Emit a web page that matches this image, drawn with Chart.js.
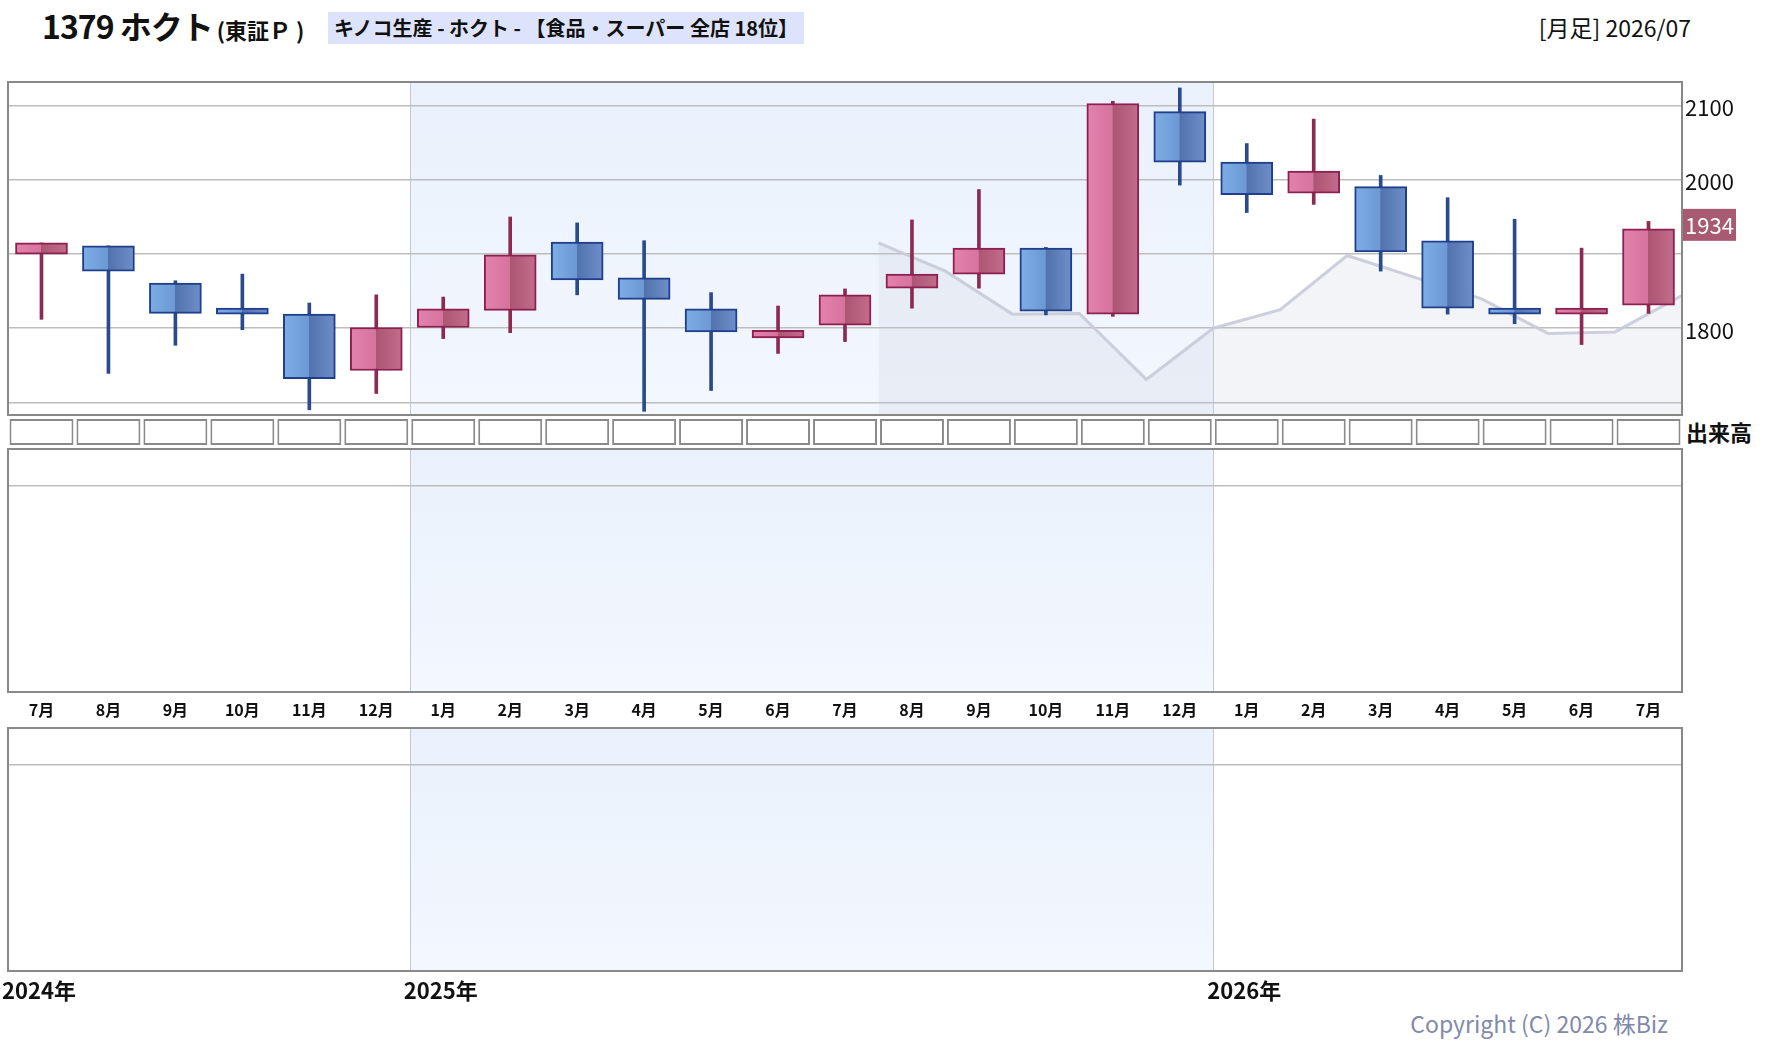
<!DOCTYPE html>
<html>
<head>
<meta charset="utf-8">
<script src="https://cdn.jsdelivr.net/npm/chart.js@4.4.1/dist/chart.umd.min.js"></script>
<style>
  body { margin:0; width:1780px; height:1054px; background:#fff; position:relative; overflow:hidden;
         font-family:"Noto Sans CJK JP","Noto Sans",sans-serif; color:#111; }
  canvas { position:absolute; left:0; }
  .txt { position:absolute; white-space:nowrap; }
</style>
</head>
<body>
<div class="txt" style="left:42px;top:2px;font-size:32px;font-weight:bold;letter-spacing:-1px;">1379 ホクト<span style="font-size:22px;margin-left:4px;letter-spacing:0;">(東証Ｐ )</span></div>
<div class="txt" style="left:328px;top:12px;height:32px;line-height:32px;padding:0 6px;background:#dce3fa;font-size:20px;font-weight:bold;">キノコ生産 - ホクト - 【食品・スーパー 全店 18位】</div>
<div class="txt" style="right:89px;top:10px;font-size:23px;">[月足] 2026/07</div>
<div class="txt" style="left:1686px;top:415px;font-size:22px;font-weight:bold;">出来高</div>
<div class="txt" style="right:112px;top:1006px;font-size:23px;color:#8389aa;">Copyright (C) 2026 株Biz</div>

<canvas id="main" width="1780" height="350" style="top:70px;width:1780px;height:350px"></canvas>
<canvas id="cells" width="1780" height="34" style="top:415px;width:1780px;height:34px"></canvas>
<canvas id="vol1" width="1780" height="285" style="top:445px;width:1780px;height:285px"></canvas>
<canvas id="vol2" width="1780" height="334" style="top:720px;width:1780px;height:334px"></canvas>

<script>
// monthly candles, 2024/07 .. 2026/07
var months = ['7月','8月','9月','10月','11月','12月',
              '1月','2月','3月','4月','5月','6月','7月','8月','9月','10月','11月','12月',
              '1月','2月','3月','4月','5月','6月','7月'];
var openPrices  = [1900,1911,1861,1827,1819,1743,1801,1824,1916,1868,1826,1787,1804,1854,1873,1908,1819,2092,2024,1982,1991,1918,1827,1819,1831];
var closePrices = [1915,1877,1820,1819,1732,1801,1826,1899,1865,1839,1795,1797,1845,1873,1908,1823,2103,2024,1980,2012,1903,1827,1819,1827,1934];
var highPrices  = [1915,1911,1864,1873,1834,1845,1842,1950,1942,1918,1848,1830,1853,1946,1987,1909,2106,2124,2049,2082,2006,1976,1947,1908,1944];
var lowPrices   = [1812,1739,1777,1798,1690,1712,1786,1794,1845,1688,1716,1766,1782,1827,1854,1818,1816,1993,1956,1967,1877,1819,1806,1778,1820];

// grey line (one year earlier), plotted from slot 13 onward
var prevYearStart = 13;
var prevYearLine = [1915,1877,1819,1820,1731,1800,1825,1898,1869,1840,1793,1795,1844];

var yGridValues = [1700,1800,1900,2000,2100];
var yTickLabels = [1800,2000,2100];
var yearLabels = ['2024年','2025年','2026年'];
var yearStarts = [0,6,18];

var FONT = '"Noto Sans CJK JP","Noto Sans",sans-serif';
var PAD_LEFT = 8, AXIS_W = 98;

function isUp(i) { return closePrices[i] >= openPrices[i]; }

// background + year dividers + border, shared by every panel
var panelPlugin = {
  id: 'panel',
  beforeDraw: function (chart) {
    var a = chart.chartArea, c = chart.ctx, xs = chart.scales.xl;
    var x1 = xs.getPixelForValue(yearStarts[1]), x2 = xs.getPixelForValue(yearStarts[2]);
    c.save();
    c.fillStyle = '#fff';
    c.fillRect(a.left, a.top, a.width, a.height);
    var g = c.createLinearGradient(0, a.top, 0, a.bottom);
    g.addColorStop(0, '#eaf1fc');
    g.addColorStop(1, '#f3f7fe');
    c.fillStyle = g;
    c.fillRect(x1, a.top, x2 - x1, a.height);
    c.strokeStyle = '#c4c8d4';
    c.lineWidth = 1;
    [x1, x2].forEach(function (x) {
      c.beginPath(); c.moveTo(Math.round(x) + 0.5, a.top); c.lineTo(Math.round(x) + 0.5, a.bottom); c.stroke();
    });
    c.restore();
  },
  afterDraw: function (chart) {
    var a = chart.chartArea, c = chart.ctx;
    c.save();
    c.strokeStyle = '#888';
    c.lineWidth = 2;
    c.strokeRect(a.left, a.top, a.width, a.height);
    c.restore();
  }
};

function hiddenLinearX() {
  return { type: 'linear', min: 0, max: months.length, offset: false, display: false };
}

function rightAxis(extra) {
  var ax = {
    position: 'right',
    afterFit: function (s) { s.width = AXIS_W; s.paddingTop = 0; s.paddingBottom = 0; },
    border: { display: false },
    grid: { color: '#bdbdbd', lineWidth: 1.5, drawTicks: false }
  };
  for (var k in extra) ax[k] = extra[k];
  return ax;
}

function bodyColor(ctx) {
  var i = ctx.dataIndex, chart = ctx.chart, xs = chart.scales.x;
  var up = isUp(i);
  if (!xs || !chart.chartArea) return up ? '#d7759f' : '#6f9bd6';
  var cx = xs.getPixelForValue(i);
  var g = chart.ctx.createLinearGradient(cx - 26, 0, cx + 26, 0);
  if (up) {
    g.addColorStop(0, '#e383ac'); g.addColorStop(0.49, '#d6739e');
    g.addColorStop(0.5, '#ab5672'); g.addColorStop(1, '#c46c8c');
  } else {
    g.addColorStop(0, '#7eaee5'); g.addColorStop(0.49, '#6c98d4');
    g.addColorStop(0.5, '#5272ad'); g.addColorStop(1, '#6e8fc9');
  }
  return g;
}

var badgePlugin = {
  id: 'badge',
  afterDraw: function (chart) {
    var a = chart.chartArea, c = chart.ctx;
    var last = closePrices[closePrices.length - 1];
    var y = chart.scales.y.getPixelForValue(last) - 4;
    c.save();
    c.fillStyle = '#a85a72';
    c.fillRect(a.right + 1, y - 16, 53, 32);
    c.fillStyle = '#fff';
    c.font = '22px ' + FONT;
    c.textBaseline = 'middle';
    c.fillText(String(last), a.right + 3, y + 1);
    c.restore();
  }
};

new Chart(document.getElementById('main'), {
  data: {
    labels: months,
    datasets: [
      {
        type: 'line', xAxisID: 'xl', order: 3,
        data: prevYearLine.map(function (v, i) { return { x: prevYearStart + i, y: v }; }),
        borderColor: 'rgba(200,202,216,0.9)', borderWidth: 3, pointRadius: 0,
        fill: 'start', backgroundColor: 'rgba(195,198,215,0.2)', tension: 0
      },
      {
        type: 'bar', order: 2, grouped: false,
        data: months.map(function (m, i) { return [lowPrices[i], highPrices[i]]; }),
        backgroundColor: months.map(function (m, i) { return isUp(i) ? '#8c2a52' : '#2a4a8c'; }),
        barThickness: 3, borderWidth: 0
      },
      {
        type: 'bar', order: 1, grouped: false,
        data: months.map(function (m, i) { return [openPrices[i], closePrices[i]]; }),
        backgroundColor: bodyColor,
        borderColor: months.map(function (m, i) { return isUp(i) ? '#8c2050' : '#1f3f8c'; }),
        borderWidth: 2, borderSkipped: false, barThickness: 52
      }
    ]
  },
  options: {
    responsive: false, animation: false,
    layout: { padding: { left: PAD_LEFT, top: 12, bottom: 5, right: 0 } },
    plugins: { legend: { display: false }, tooltip: { enabled: false } },
    scales: {
      x: { type: 'category', display: false, offset: true },
      xl: hiddenLinearX(),
      y: rightAxis({
        min: 1683, max: 2132,
        afterBuildTicks: function (s) { s.ticks = yGridValues.map(function (v) { return { value: v }; }); },
        ticks: {
          padding: 3, labelOffset: 2, color: '#111', font: { family: FONT, size: 22 },
          callback: function (v) { return yTickLabels.indexOf(v) >= 0 ? String(v) : ''; }
        }
      })
    }
  },
  plugins: [panelPlugin, badgePlugin]
});

// empty volume cells under the price panel
new Chart(document.getElementById('cells'), {
  type: 'bar',
  data: {
    labels: months,
    datasets: [{
      data: months.map(function () { return [0, 1]; }),
      backgroundColor: '#fff', borderColor: '#8a8a8a', borderWidth: 2, borderSkipped: false,
      categoryPercentage: 1, barPercentage: 0.955
    }]
  },
  options: {
    responsive: false, animation: false,
    layout: { padding: { left: PAD_LEFT, right: AXIS_W, top: 4, bottom: 4 } },
    plugins: { legend: { display: false }, tooltip: { enabled: false } },
    scales: { x: { display: false }, y: { display: false, min: 0, max: 1 } }
  }
});

function emptyPanel(id, xOpts, padBottom, extraPlugins) {
  return new Chart(document.getElementById(id), {
    type: 'bar',
    data: { labels: months, datasets: [{ data: [] }] },
    options: {
      responsive: false, animation: false,
      layout: { padding: { left: PAD_LEFT, right: 0, top: id === 'vol1' ? 4 : 8, bottom: padBottom } },
      plugins: { legend: { display: false }, tooltip: { enabled: false } },
      scales: {
        x: xOpts,
        xl: hiddenLinearX(),
        y: rightAxis({
          min: 0, max: 100,
          afterBuildTicks: function (s) { s.ticks = [{ value: 85 }]; },
          ticks: { display: false }
        })
      }
    },
    plugins: [panelPlugin].concat(extraPlugins || [])
  });
}

emptyPanel('vol1', {
  type: 'category', offset: true, position: 'bottom',
  afterFit: function (s) { s.height = 38; },
  border: { display: false },
  grid: { display: false },
  ticks: { padding: 0, color: '#111', maxRotation: 0, autoSkip: false, font: { family: FONT, size: 16, weight: 'bold' } }
}, 0);

var yearPlugin = {
  id: 'years',
  afterDraw: function (chart) {
    var c = chart.ctx, xs = chart.scales.xl, a = chart.chartArea;
    c.save();
    c.fillStyle = '#111';
    c.font = 'bold 22px ' + FONT;
    c.textBaseline = 'middle';
    yearLabels.forEach(function (t, k) {
      c.fillText(t, xs.getPixelForValue(yearStarts[k]) - 6, a.bottom + 20);
    });
    c.restore();
  }
};

emptyPanel('vol2', { type: 'category', offset: true, display: false }, 83, [yearPlugin]);
</script>
</body>
</html>
